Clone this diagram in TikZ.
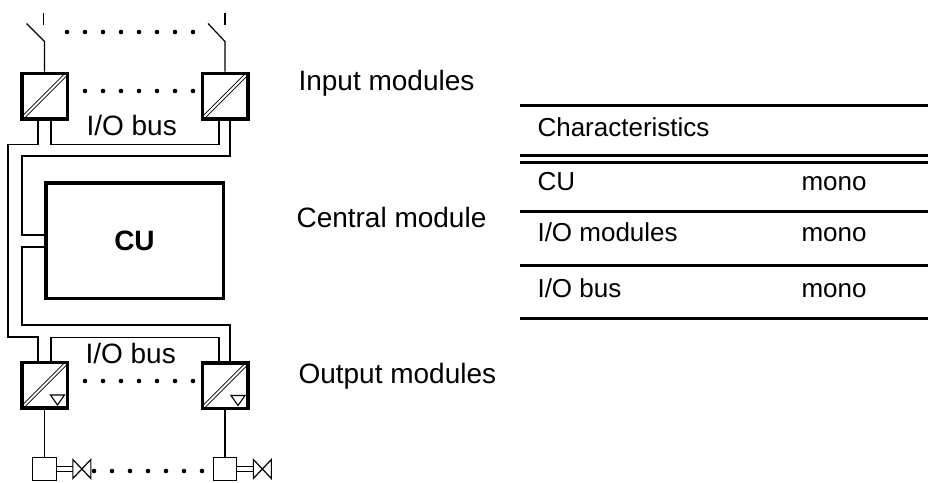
\documentclass[tikz,border=0pt]{standalone}
\usepackage{fontspec}
\setmainfont{Liberation Sans}
\usetikzlibrary{calc}

\newcommand\lblsize{\fontsize{28}{32}\selectfont}
\newcommand\tabsize{\fontsize{26}{30}\selectfont}

\begin{document}
\begin{tikzpicture}[x=1pt,y=-1pt]
% Diagram style
\tikzset{
    module/.style={draw, line width=3.5pt, minimum size=45.5pt, inner sep=0pt,
        path picture={\draw[line width=0.9pt, double, double distance=2pt]
            (path picture bounding box.south west) -- (path picture bounding box.north east);}},
    bus/.style={line width=1.2pt},
    rule/.style={line width=3pt},
    dot/.style={circle, fill, inner sep=0pt, minimum size=4.6pt},
    label/.style={anchor=base west, font=\lblsize},
    cell/.style={anchor=base west, font=\tabsize}
}
\useasboundingbox (0,0) rectangle (928,482);

% Modules
\node[module] (INa) at (44.5,96){};
\node[module] (INb) at (225,96){};
\node[module] (OUTa) at (44.5,385){};
\node[module] (OUTb) at (225,385.5){};
\node[draw, line width=3.5pt, minimum width=177.5pt, minimum height=115.5pt,
      font=\lblsize\bfseries] (CU) at (134.5,240.5){CU};

% Output marks
\draw[line width=1.1pt] (OUTa.center) ++(6,10) -- ++(14,0) -- ++(-7,10) -- cycle;
\draw[line width=1.1pt] (OUTb.center) ++(6,10) -- ++(14,0) -- ++(-7,10) -- cycle;

% Switches
\draw[bus] (INa.north) -- ++(0,-30) coordinate(SWa) -- ++(-18,-18);
\draw[bus] (SWa) ++(-1,-17) -- ++(0,-12);
\draw[bus] (INb.north) -- ++(0,-30) coordinate(SWb) -- ++(-17,-18);
\draw[bus] (SWb) ++(0,-17) -- ++(0,-12);

% Actuators
\node[draw, line width=1.2pt, minimum size=23.5pt] (SQa) at (44.5,469){};
\node[draw, line width=1.2pt, minimum size=23.5pt] (SQb) at (225,469){};
\draw[bus] (OUTa) -- (SQa);
\draw[bus] (OUTb) -- (SQb);
\draw[line width=1pt, double, double distance=4pt] (SQa.east) -- ++(16,0) coordinate(Va);
\draw[line width=1.2pt] (Va) ++(0,-9.5) -- ++(18,19) -- ++(0,-19) -- ++(-18,19) -- cycle;
\draw[line width=1pt, double, double distance=4pt] (SQb.east) -- ++(16,0) coordinate(Vb);
\draw[line width=1.2pt] (Vb) ++(0,-9.5) -- ++(18,19) -- ++(0,-19) -- ++(-18,19) -- cycle;

% Dots
\foreach \i in {0,...,7} \node[dot] at (67+18*\i,32){};
\foreach \i in {0,...,6} \node[dot] at (85+18*\i,91){};
\foreach \i in {0,...,6} \node[dot] at (85+18*\i,381){};
\foreach \i in {0,...,6} \node[dot] at (94+18*\i,471){};

% Connection
\draw[bus] ([xshift=-6.5pt]INa.south) -- ++(0,24) -| (8,337) -| ([xshift=-6.5pt]OUTa.north);
\draw[bus] ([xshift=6.5pt]INa.south) -- ++(0,24) -| ([xshift=-6pt]INb.south);
\draw[bus] ([xshift=5pt]INb.south) |- (22,156) |- ([yshift=5.5pt]CU.west);
\draw[bus] ([yshift=-6.5pt]CU.west) -| (22,325) -| ([xshift=5pt]OUTb.north);
\draw[bus] ([xshift=6.5pt]OUTa.north) -- ++(0,-23) -| ([xshift=-6pt]OUTb.north);
\node[label] (BUSin) at (83,135){I/O bus};
\node[label] (BUSout) at (82,363){I/O bus};

% Labels
\node[label] (INlbl) at (295,90){Input modules};
\node[label] (CUlbl) at (293,227){Central module};
\node[label] (OUTlbl) at (295,383){Output modules};

% Table
\foreach \y in {105,155,162,211,265,318} \draw[rule] (520,\y) -- (928,\y);
\node[cell] (HEAD) at (534,136){Characteristics};
\node[cell] (ROWa) at (534,190){CU};
\node[cell] (ROWb) at (534,241){I/O modules};
\node[cell] (ROWc) at (534,297){I/O bus};
\node[cell] (VALa) at (798,190){mono};
\node[cell] (VALb) at (798,241){mono};
\node[cell] (VALc) at (798,297){mono};
\end{tikzpicture}
\end{document}
